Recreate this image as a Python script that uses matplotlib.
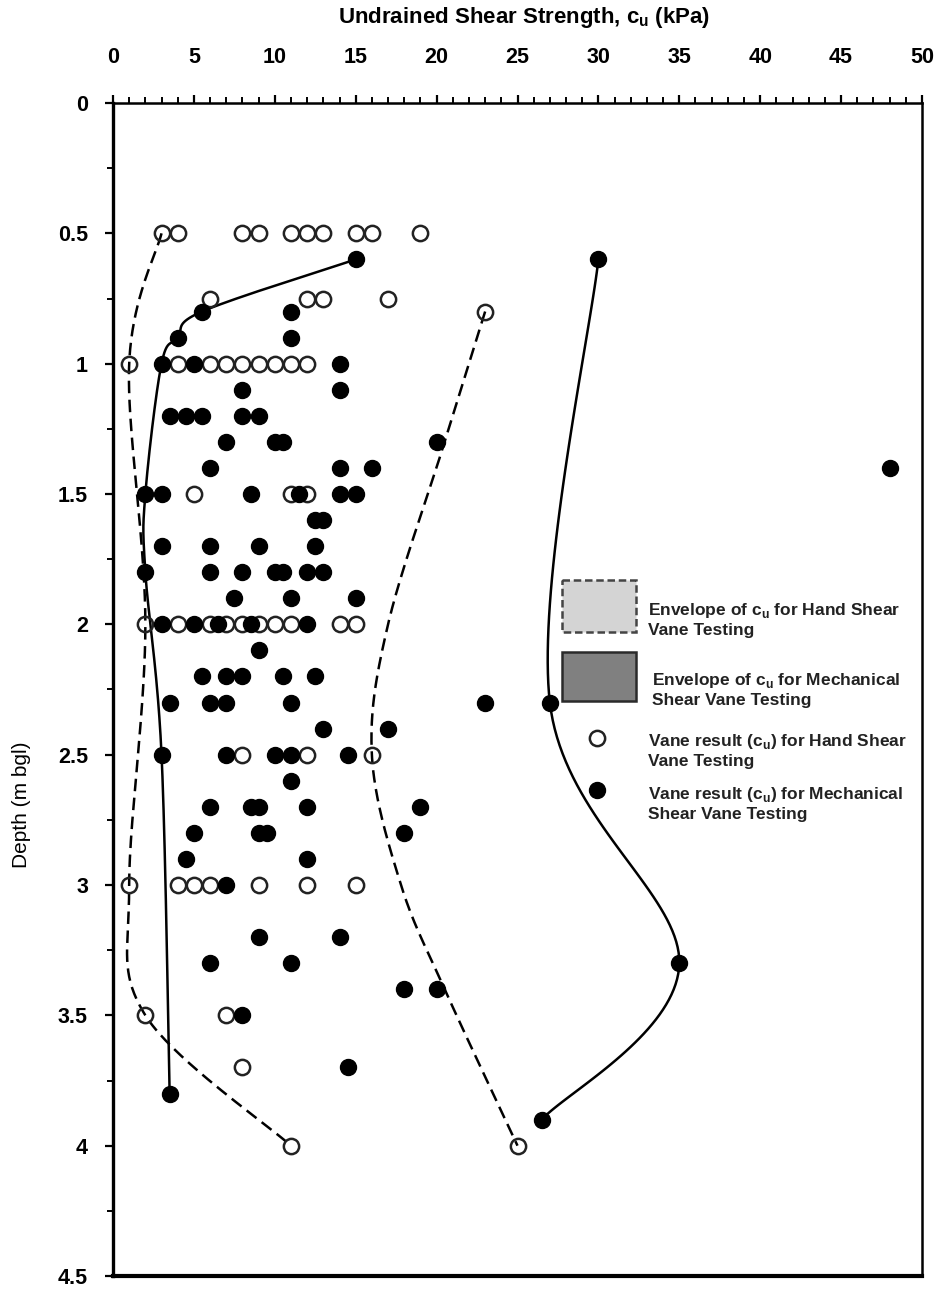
import numpy as np
import matplotlib
matplotlib.use("Agg")
import matplotlib.pyplot as plt
from matplotlib.patches import Rectangle

plt.rcParams['font.family'] = ['Liberation Sans', 'DejaVu Sans']

# ---------------- data ----------------
# Hand shear vane results (open circles): (depth, [cu values])
hand_rows = [
    (0.5, [3, 4, 8, 9, 11, 12, 13, 15, 16, 19]),
    (0.75, [6, 12, 13, 17]),
    (0.8, [23]),
    (1.0, [1, 4, 6, 7, 8, 9, 10, 11, 12]),
    (1.5, [5, 11, 12]),
    (2.0, [2, 4, 6, 7, 8, 9, 10, 11, 14, 15]),
    (2.5, [8, 12, 16]),
    (3.0, [1, 4, 5, 6, 9, 12, 15]),
    (3.5, [2, 7]),
    (3.7, [8]),
    (4.0, [11, 25]),
]
# Mechanical shear vane results (filled circles)
mech_rows = [
    (0.6, [15, 30]),
    (0.8, [5.5, 11]),
    (0.9, [4, 11]),
    (1.0, [3, 5, 14]),
    (1.1, [8, 14]),
    (1.2, [3.5, 4.5, 5.5, 8, 9]),
    (1.3, [7, 10, 10.5, 20]),
    (1.4, [6, 14, 16, 48]),
    (1.5, [2, 3, 8.5, 11.5, 14, 15]),
    (1.6, [12.5, 13]),
    (1.7, [3, 6, 9, 12.5]),
    (1.8, [2, 6, 8, 10, 10.5, 12, 13]),
    (1.9, [7.5, 11, 15]),
    (2.0, [3, 5, 6.5, 8.5, 12]),
    (2.1, [9]),
    (2.2, [5.5, 7, 8, 10.5, 12.5]),
    (2.3, [3.5, 6, 7, 11, 23, 27]),
    (2.4, [13, 17]),
    (2.5, [3, 7, 10, 11, 14.5]),
    (2.6, [11]),
    (2.7, [6, 8.5, 9, 12, 19]),
    (2.8, [5, 9, 9.5, 18]),
    (2.9, [4.5, 12]),
    (3.0, [7]),
    (3.2, [9, 14]),
    (3.3, [6, 11, 35]),
    (3.4, [18, 20]),
    (3.5, [8]),
    (3.7, [14.5]),
    (3.8, [3.5]),
    (3.9, [26.5]),
]

# Envelope anchor points (smoothed lines)
hand_min_cu = [3, 1, 2, 1, 2, 11]
hand_min_depth = [0.5, 1.0, 2.0, 3.0, 3.5, 4.0]
hand_max_cu = [23, 20.5, 17, 16, 17.8, 20.5, 25]
hand_max_depth = [0.8, 1.3, 2.0, 2.5, 3.0, 3.4, 4.0]
mech_min_cu = [15, 5.5, 4, 3, 2, 2, 3, 3.5]
mech_min_depth = [0.6, 0.8, 0.9, 1.0, 1.5, 1.8, 2.5, 3.8]
mech_max_cu = [30, 27, 35, 26.5]
mech_max_depth = [0.6, 2.3, 3.3, 3.9]

x_ticks = list(range(0, 51, 5))
y_ticks = [0, 0.5, 1, 1.5, 2, 2.5, 3, 3.5, 4, 4.5]
y_ticklabels = ['0', '0.5', '1', '1.5', '2', '2.5', '3', '3.5', '4', '4.5']

legend_labels = [
    "Envelope of c$_\\mathregular{u}$ for Hand Shear\nVane Testing",
    "Envelope of c$_\\mathregular{u}$ for Mechanical\nShear Vane Testing",
    "Vane result (c$_\\mathregular{u}$) for Hand Shear\nVane Testing",
    "Vane result (c$_\\mathregular{u}$) for Mechanical\nShear Vane Testing",
]


def expand(rows):
    d, v = [], []
    for depth, vals in rows:
        for x in vals:
            d.append(depth)
            v.append(x)
    return np.array(v, float), np.array(d, float)


def smooth(xs, ys, n=40):
    """Excel-like smoothed line (Catmull-Rom Bezier) through anchor points."""
    P = np.column_stack([xs, ys]).astype(float)
    out = []
    m = len(P)
    for i in range(m - 1):
        p0 = P[i - 1] if i > 0 else P[i]
        p1 = P[i]
        p2 = P[i + 1]
        p3 = P[i + 2] if i + 2 < m else P[i + 1]
        c1 = p1 + (p2 - p0) / 6.0
        c2 = p2 - (p3 - p1) / 6.0
        t = np.linspace(0, 1, n)[:, None]
        seg = ((1 - t) ** 3) * p1 + 3 * ((1 - t) ** 2) * t * c1 + 3 * (1 - t) * t ** 2 * c2 + t ** 3 * p2
        out.append(seg if i == 0 else seg[1:])
    out = np.vstack(out)
    return out[:, 0], out[:, 1]


# ---------------- figure ----------------
fig = plt.figure(figsize=(9.41, 12.91), dpi=100)
ax = fig.add_axes([113 / 941, 1 - 1276 / 1291, (922 - 113) / 941, (1276 - 103) / 1291])

dash = (0, (5.0, 2.6))
for xs, ys, ls in [(hand_min_cu, hand_min_depth, dash), (hand_max_cu, hand_max_depth, dash),
                   (mech_min_cu, mech_min_depth, '-'), (mech_max_cu, mech_max_depth, '-')]:
    sx, sy = smooth(xs, ys)
    ax.plot(sx, sy, color='black', lw=1.8, linestyle=ls, zorder=2)

hx, hy = expand(hand_rows)
mx, my = expand(mech_rows)
ax.plot(hx, hy, linestyle='none', marker='o', ms=11, mfc='none', mec='#222222', mew=1.8, zorder=3)
ax.plot(mx, my, linestyle='none', marker='o', ms=11.5, mfc='black', mec='black', mew=1, zorder=4)

ax.set_xlim(0, 50)
ax.set_ylim(4.5, 0)
ax.xaxis.tick_top()
ax.xaxis.set_label_position('top')
ax.set_xticks(x_ticks)
ax.set_xticks(np.arange(0, 51, 1), minor=True)
ax.set_yticks(y_ticks)
ax.set_yticklabels(y_ticklabels)
ax.set_yticks(np.arange(0, 4.51, 0.25), minor=True)
ax.tick_params(axis='x', which='major', direction='out', length=6, width=1.6, pad=19,
               labelsize=15.5)
ax.tick_params(axis='x', which='minor', direction='out', length=4, width=1.4)
ax.tick_params(axis='y', which='major', direction='out', length=6, width=1.6, pad=12, labelsize=15.5)
ax.tick_params(axis='y', which='minor', direction='out', length=4, width=1.4)
for lab in ax.get_xticklabels() + ax.get_yticklabels():
    lab.set_fontweight('bold')

ax.spines['left'].set_linewidth(2.4)
ax.spines['bottom'].set_linewidth(3.0)
ax.spines['right'].set_linewidth(1.8)
ax.spines['top'].set_linewidth(1.8)

fig.text(524 / 941, 1 - 17 / 1291, "Undrained Shear Strength, c$_\\mathregular{u}$ (kPa)",
         ha='center', va='center', fontsize=16, fontweight='bold')
fig.text(22 / 941, 1 - 805 / 1291, "Depth (m bgl)", rotation=90, ha='center', va='center',
         fontsize=15)

# ---------------- legend ----------------
def px2data(px, py):
    return (px - 113) / (922 - 113) * 50, (py - 103) / (1276 - 103) * 4.5

x0, y0 = px2data(562, 580)
x1, y1 = px2data(636, 632)
ax.add_patch(Rectangle((x0, y0), x1 - x0, y1 - y0, facecolor='#d4d4d4', edgecolor='#444444',
                       lw=1.8, linestyle=(0, (3, 1.5)), zorder=5))
x0, y0 = px2data(562, 652)
x1, y1 = px2data(636, 701)
ax.add_patch(Rectangle((x0, y0), x1 - x0, y1 - y0, facecolor='#808080', edgecolor='#2a2a2a',
                       lw=1.8, zorder=5))
cx, cy = px2data(597, 738)
ax.plot([cx], [cy], marker='o', ms=11, mfc='none', mec='#222222', mew=1.8, zorder=5)
cx, cy = px2data(597, 790)
ax.plot([cx], [cy], marker='o', ms=11.5, mfc='black', mec='black', zorder=5)

text_pos = [(648, 620), (652, 689), (648, 751), (648, 803)]
for (tx, ty), lab in zip(text_pos, legend_labels):
    dx, dy = px2data(tx, ty)
    ax.text(dx, dy, lab, ha='left', va='center', fontsize=12.5, fontweight='bold',
            color='#222222', linespacing=1.25, zorder=6)

fig.savefig('out.png', dpi=100)
